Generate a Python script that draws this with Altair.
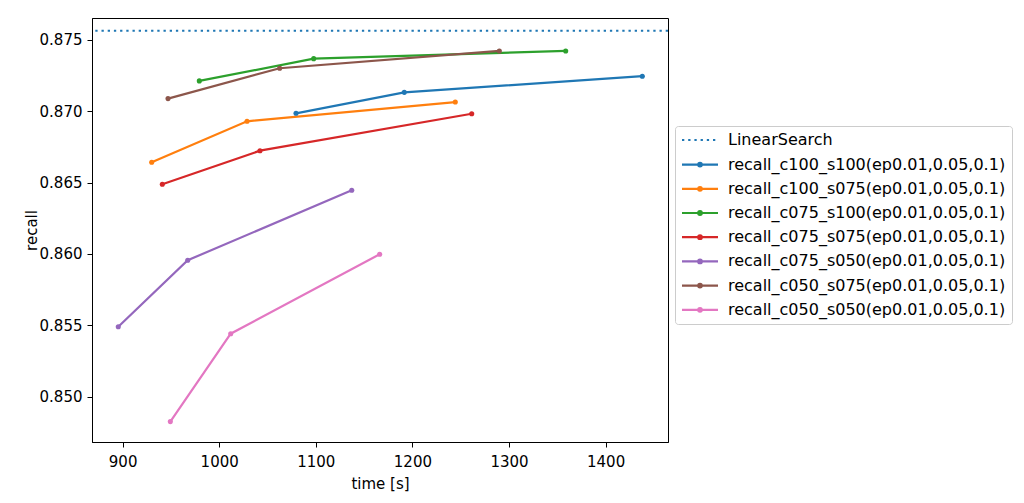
import altair as alt
import pandas as pd

# ---------------- data ----------------
linear_name = "LinearSearch"
linear_recall = 0.87565

series_names = [
    "recall_c100_s100(ep0.01,0.05,0.1)",
    "recall_c100_s075(ep0.01,0.05,0.1)",
    "recall_c075_s100(ep0.01,0.05,0.1)",
    "recall_c075_s075(ep0.01,0.05,0.1)",
    "recall_c075_s050(ep0.01,0.05,0.1)",
    "recall_c050_s075(ep0.01,0.05,0.1)",
    "recall_c050_s050(ep0.01,0.05,0.1)",
]
series_colors = ["#1f77b4", "#ff7f0e", "#2ca02c", "#d62728", "#9467bd", "#8c564b", "#e377c2"]

time_c100_s100 = [1079.5, 1191.6, 1438.0]
recall_c100_s100 = [0.86986, 0.87133, 0.87246]
time_c100_s075 = [930.1, 1028.8, 1244.4]
recall_c100_s075 = [0.86643, 0.86930, 0.87065]
time_c075_s100 = [979.4, 1097.8, 1358.7]
recall_c075_s100 = [0.87213, 0.87369, 0.87423]
time_c075_s075 = [941.1, 1042.2, 1261.4]
recall_c075_s075 = [0.86489, 0.86724, 0.86983]
time_c075_s050 = [895.5, 967.4, 1137.2]
recall_c075_s050 = [0.85490, 0.85956, 0.86447]
time_c050_s075 = [947.0, 1062.6, 1290.0]
recall_c050_s075 = [0.87089, 0.87302, 0.87423]
time_c050_s050 = [949.4, 1011.9, 1166.1]
recall_c050_s050 = [0.84825, 0.85441, 0.85998]

x_ticks = [900, 1000, 1100, 1200, 1300, 1400]
y_ticks = [0.850, 0.855, 0.860, 0.865, 0.870, 0.875]

series_times = [time_c100_s100, time_c100_s075, time_c075_s100, time_c075_s075,
                time_c075_s050, time_c050_s075, time_c050_s050]
series_recalls = [recall_c100_s100, recall_c100_s075, recall_c075_s100, recall_c075_s075,
                  recall_c075_s050, recall_c050_s075, recall_c050_s050]

rows = []
for name, ts, rs in zip(series_names, series_times, series_recalls):
    for i, (t, r) in enumerate(zip(ts, rs)):
        rows.append({"series": name, "time": t, "recall": r, "idx": i})
df = pd.DataFrame(rows)
lin_df = pd.DataFrame({"name": [linear_name], "recall": [linear_recall]})

# ---------------- styling ----------------
FONT = "DejaVu Sans"
FS = 15
LEG_FS = 16
SYM_LINE = "M-3,0H3"
SYM_DOT = "M-3,0H3M-0.3,0A0.3,0.3,0,1,1,0.3,0A0.3,0.3,0,1,1,-0.3,0"
LEG_X, LEG_Y = 583, 108

x_scale = alt.Scale(domain=[868.3, 1464.6], nice=False, zero=False)
y_scale = alt.Scale(domain=[0.84682, 0.87654], nice=False, zero=False)

x_enc = alt.X("time:Q", scale=x_scale,
              axis=alt.Axis(values=x_ticks, format="d", title="time [s]",
                            labelPadding=7, titlePadding=7))
y_enc = alt.Y("recall:Q", scale=y_scale,
              axis=alt.Axis(values=y_ticks, format=".3f", title="recall",
                            labelPadding=5, titlePadding=0))

legend_series = alt.Legend(
    orient="none", legendX=LEG_X, legendY=LEG_Y,
    title="\u00a0", titleFont=FONT,
    titleFontSize=LEG_FS, titleFontWeight="normal", titlePadding=8.6,
    padding=6, strokeColor="#cccccc", cornerRadius=3,
    symbolType=SYM_DOT, symbolSize=144, symbolStrokeWidth=2.2, symbolOffset=11,
    symbolOpacity=1,
    labelFont=FONT, labelFontSize=LEG_FS, labelColor="black", labelLimit=600,
    labelOffset=20, rowPadding=8.2,
)
legend_linear = alt.Legend(
    orient="none", legendX=LEG_X, legendY=LEG_Y, title=None,
    padding=6,
    symbolType=SYM_LINE, symbolSize=144, symbolStrokeWidth=2, symbolOffset=11,
    symbolStrokeColor="#1f77b4", symbolOpacity=1,
    labelFont=FONT, labelFontSize=LEG_FS, labelColor="black", labelLimit=600,
    labelOffset=20, rowPadding=8.2,
)

color_enc = alt.Color("series:N",
                      scale=alt.Scale(domain=series_names, range=series_colors),
                      legend=legend_series)

rule = alt.Chart(lin_df).mark_rule(strokeWidth=2, color="#1f77b4").encode(
    y=y_enc,
    strokeDash=alt.StrokeDash("name:N",
                              scale=alt.Scale(domain=[linear_name], range=[[2.3, 3.9]]),
                              legend=legend_linear),
)

lines = alt.Chart(df).mark_line(strokeWidth=2.2).encode(
    x=x_enc, y=y_enc, color=color_enc, order="idx:Q"
)
points = alt.Chart(df).mark_point(filled=True, size=26, opacity=1).encode(
    x=x_enc, y=y_enc, color=color_enc
)

chart = alt.layer(rule, lines, points).properties(
    width=576, height=424,
    autosize=alt.AutoSizeParams(type="none"),
    padding={"left": 84, "top": 10, "right": 346, "bottom": 50},
    background="white",
).configure_view(
    stroke="black", strokeWidth=1
).configure_axis(
    grid=False, domainColor="black", domainWidth=1, tickColor="black", tickSize=5,
    labelFont=FONT, labelFontSize=FS, labelColor="black",
    titleFont=FONT, titleFontSize=FS, titleColor="black", titleFontWeight="normal",
)

chart.save("out.html", embed_options={"renderer": "svg", "actions": False})
